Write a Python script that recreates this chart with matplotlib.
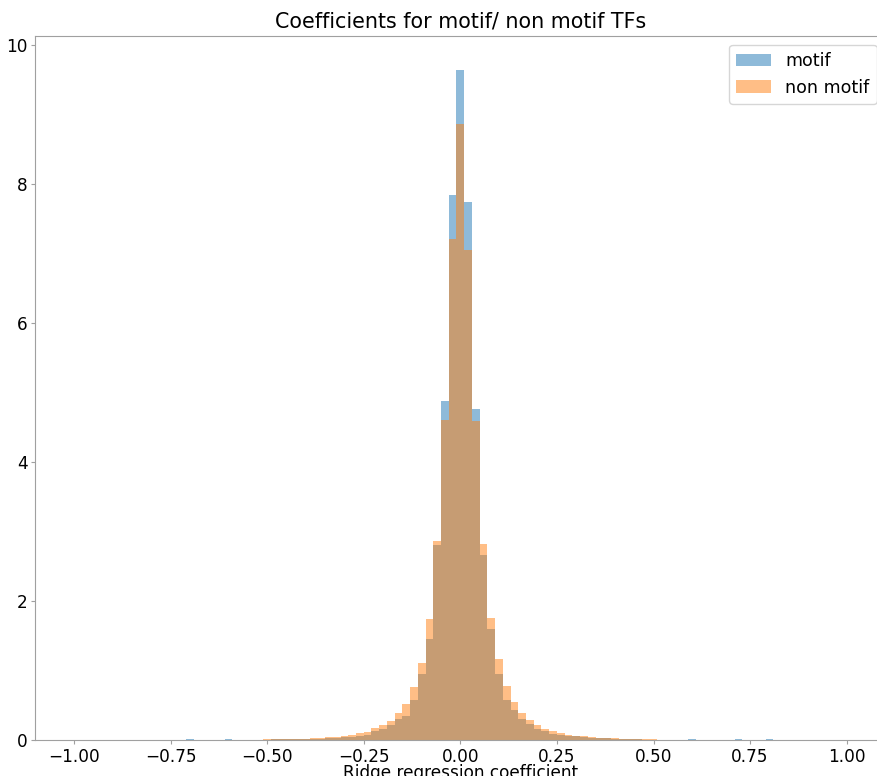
import numpy as np
import matplotlib
matplotlib.use("Agg")
import matplotlib.pyplot as plt

# bin centres (width 0.02) and density heights
centers = [-0.50, -0.48, -0.46, -0.44, -0.42, -0.40, -0.38, -0.36, -0.34, -0.32,
           -0.30, -0.28, -0.26, -0.24, -0.22, -0.20, -0.18, -0.16, -0.14, -0.12,
           -0.10, -0.08, -0.06, -0.04, -0.02, 0.00, 0.02, 0.04, 0.06, 0.08,
           0.10, 0.12, 0.14, 0.16, 0.18, 0.20, 0.22, 0.24, 0.26, 0.28,
           0.30, 0.32, 0.34, 0.36, 0.38, 0.40, 0.42, 0.44, 0.46, 0.48, 0.50]

motif = [0.006, 0.008, 0.008, 0.010, 0.012, 0.014, 0.016, 0.020, 0.024, 0.030,
         0.040, 0.050, 0.060, 0.077, 0.134, 0.163, 0.211, 0.307, 0.345, 0.576,
         0.945, 1.45, 2.80, 4.88, 7.84, 9.65, 7.74, 4.76, 2.66, 1.60,
         0.95, 0.57, 0.432, 0.307, 0.23, 0.153, 0.134, 0.086, 0.077, 0.060,
         0.053, 0.040, 0.032, 0.026, 0.022, 0.018, 0.014, 0.011, 0.009, 0.007, 0.006]

non_motif = [0.008, 0.010, 0.012, 0.015, 0.018, 0.020, 0.025, 0.030, 0.036, 0.045,
             0.060, 0.072, 0.100, 0.115, 0.173, 0.216, 0.278, 0.388, 0.518, 0.763,
             1.11, 1.74, 2.86, 4.61, 7.21, 8.86, 7.05, 4.585, 2.82, 1.76,
             1.165, 0.78, 0.547, 0.393, 0.288, 0.211, 0.158, 0.13, 0.10, 0.077,
             0.063, 0.053, 0.042, 0.035, 0.028, 0.022, 0.018, 0.015, 0.012, 0.010, 0.008]

# a few lone motif values far out in the tails
tail_centers = [-0.70, -0.60, 0.60, 0.72, 0.80]
tail_motif = [0.01, 0.01, 0.01, 0.01, 0.01]

edges = np.linspace(-1.01, 1.01, 102)

plt.rcParams['font.size'] = 12.2

fig = plt.figure(figsize=(8.77, 7.76), dpi=100)
ax = fig.add_axes([0.0403, 0.0464, 0.9692, 0.9072])

ax.hist(centers + tail_centers, bins=edges, weights=motif + tail_motif,
        alpha=0.5, label="motif")
ax.hist(centers, bins=edges, weights=non_motif, alpha=0.5, label="non motif")

ax.set_xlim(-1.1, 1.1)
ax.set_xticks([-1.0, -0.75, -0.5, -0.25, 0.0, 0.25, 0.5, 0.75, 1.0])
ax.set_yticks([0, 2, 4, 6, 8, 10])

for s in ax.spines.values():
    s.set_color("#a0a0a0")
ax.tick_params(color="#a0a0a0", length=3, pad=2.5, labelcolor="black")

ax.set_title("Coefficients for motif/ non motif TFs", fontsize=14.9)
ax.set_xlabel("Ridge regression coefficient", labelpad=-1)
ax.legend(loc="upper right", fontsize=12.6)

fig.savefig("out.png", dpi=100)
